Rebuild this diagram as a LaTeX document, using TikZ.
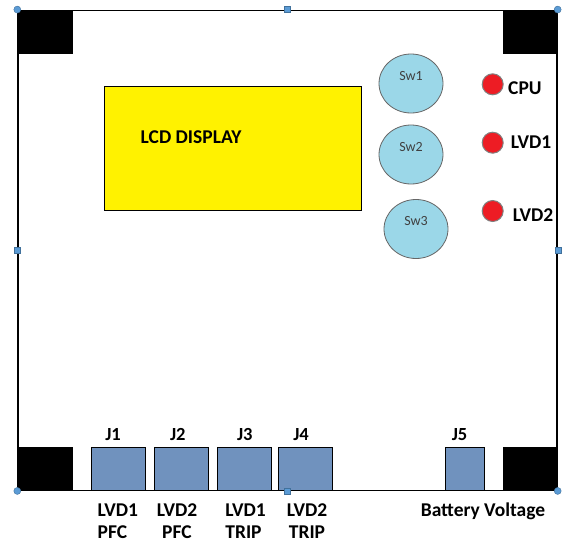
\documentclass[tikz,border=0pt]{standalone}
\usepackage{fontspec}
\setmainfont{Carlito}
\usetikzlibrary{positioning, shapes.geometric}
\definecolor{lcdyellow}{RGB}{255,242,0}
\definecolor{jackblue}{RGB}{112,146,190}
\definecolor{swblue}{RGB}{155,215,232}
\definecolor{ledred}{RGB}{237,28,36}
\definecolor{handleblue}{RGB}{91,155,213}
\definecolor{handleedge}{RGB}{65,113,156}
\tikzset{
  board/.style={draw, line width=1.4pt, minimum width=539pt, minimum height=480pt, inner sep=0pt},
  pad/.style={fill=black, minimum width=55pt, minimum height=44pt, inner sep=0pt},
  lcdbox/.style={draw, fill=lcdyellow, line width=0.9pt, minimum width=257pt, minimum height=124pt, inner sep=0pt},
  jack/.style={draw, fill=jackblue, line width=0.7pt, minimum height=43pt, inner sep=0pt, anchor=south west},
  sw/.style={ellipse, draw=black!60, fill=swblue, line width=0.8pt, minimum width=64pt, minimum height=59pt,
    inner sep=0pt, text=black!75, font=\fontsize{14}{16}\selectfont, text height=8pt, text depth=15pt},
  led/.style={circle, draw=black!50, fill=ledred, line width=1pt, minimum size=21pt, inner sep=0pt},
  lbl/.style={inner sep=0pt, font=\bfseries\fontsize{19.5}{22}\selectfont},
  jlbl/.style={inner sep=0pt, anchor=base, font=\bfseries\fontsize{18.5}{21}\selectfont},
  cornerdot/.style={circle, draw=handleedge, fill=handleblue, minimum size=7pt, inner sep=0pt},
  edgesq/.style={draw=handleedge, fill=handleblue, minimum size=6pt, inner sep=0pt},
}
\begin{document}
\begin{tikzpicture}[x=1pt, y=-1pt]
  \useasboundingbox (0,0) rectangle (576,549);
  % board and corner pads
  \node[board] (board) at (287.5,250.25) {};
  \node[pad, anchor=north west] (padtl) at (board.north west) {};
  \node[pad, anchor=north east] (padtr) at (board.north east) {};
  \node[pad, anchor=south west] (padbl) at (board.south west) {};
  \node[pad, anchor=south east] (padbr) at (board.south east) {};
  % display
  \node[lcdbox, anchor=north west] (lcd) at (104,86) {};
  \node[lbl, anchor=base west] (lcdtext) at (140.5,143.3) {LCD DISPLAY};
  % switches
  \node[sw] (sw1) at (411,83.5) {Sw1};
  \node[sw] (sw2) at (411,154.5) {Sw2};
  \node[sw] (sw3) at (416,229) {Sw3};
  % indicator leds
  \node[led] (ledcpu) at (492.7,84.3) {};
  \node[led] (ledlvd1) at (492.7,142.7) {};
  \node[led] (ledlvd2) at (492.7,211) {};
  \node[lbl, anchor=base west] (cpulbl) at (508,94.3) {CPU};
  \node[lbl, anchor=base west] (lvd1lbl) at (510.7,148.3) {LVD1};
  \node[lbl, anchor=base west] (lvd2lbl) at (512.7,221) {LVD2};
  % connectors
  \node[jack, minimum width=54pt] (j1) at (91,490.5) {};
  \node[jack, minimum width=54pt] (j2) at (153.5,490.5) {};
  \node[jack, minimum width=54pt] (j3) at (217,490.5) {};
  \node[jack, minimum width=54pt] (j4) at (278,490.5) {};
  \node[jack, minimum width=39pt] (j5) at (444.5,490.5) {};
  \node[jlbl] (j1lbl) at (113,440.7) {J1};
  \node[jlbl] (j2lbl) at (177.8,440.7) {J2};
  \node[jlbl] (j3lbl) at (244.8,440.7) {J3};
  \node[jlbl] (j4lbl) at (301,440.7) {J4};
  \node[jlbl] (j5lbl) at (459.6,440.7) {J5};
  \node[lbl, anchor=north west, align=left] (j1txt) at (97.5,503.3) {LVD1\\PFC};
  \node[lbl, anchor=north, align=center] (j2txt) at (177,503.3) {LVD2\\PFC};
  \node[lbl, anchor=north west, align=left] (j3txt) at (225.2,503.3) {LVD1\\TRIP};
  \node[lbl, anchor=north, align=center] (j4txt) at (307,503.3) {LVD2\\TRIP};
  \node[lbl, anchor=base] (j5txt) at (483,516.7) {Battery Voltage};
  % selection handles
  \foreach \c in {north west, north east, south west, south east}
    \node[cornerdot] at (board.\c) {};
  \foreach \c in {north, south, west, east}
    \node[edgesq] at (board.\c) {};
\end{tikzpicture}
\end{document}
